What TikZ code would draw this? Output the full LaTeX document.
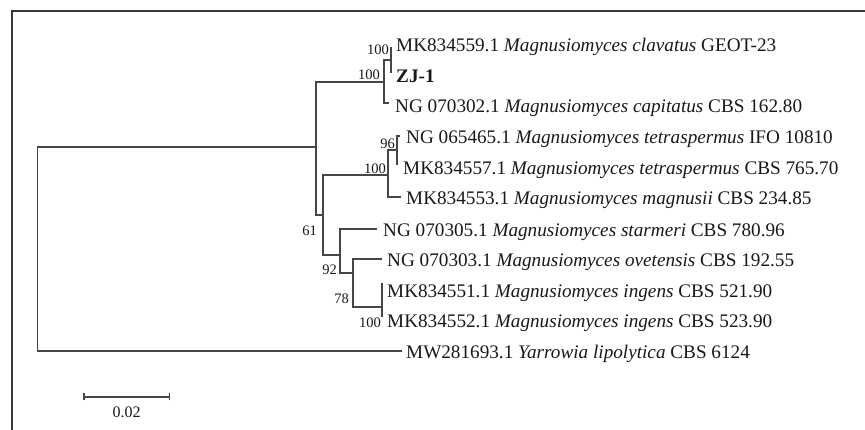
\documentclass[tikz,border=0pt]{standalone}
\usepackage{fontspec}
\setmainfont{Liberation Serif}
\definecolor{treegray}{RGB}{70,70,70}
\definecolor{framegray}{RGB}{55,55,55}
\definecolor{inkc}{RGB}{25,25,25}
\begin{document}
\begin{tikzpicture}[x=1pt,y=-1pt,
  branch/.style={draw=treegray,line width=1.9pt},
  framel/.style={draw=framegray,line width=1.7pt},
  taxon/.style={anchor=base west,inner sep=0pt,font=\fontsize{19.2}{22}\selectfont,text=inkc},
  boot/.style={anchor=east,inner sep=0pt,font=\fontsize{14.5}{16}\selectfont,text=inkc}]
\useasboundingbox (0,0) rectangle (865,430);
\fill[white] (0,0) rectangle (865,430);
\draw[framel] (865,11) -- (12,11) -- (12,430);
% internal nodes
\coordinate (R) at (37.5,249);
\coordinate (A) at (316,147);
\coordinate (B) at (384,82);
\coordinate (C) at (391,60);
\coordinate (D) at (322.7,215);
\coordinate (E) at (388,175);
\coordinate (F) at (397,150);
\coordinate (G) at (340,255);
\coordinate (H) at (353,273);
\coordinate (I) at (382,307);
% leaf ends
\coordinate (e1) at (391,47);
\coordinate (e2) at (391,73);
\coordinate (e3) at (389,103);
\coordinate (e4) at (400,136);
\coordinate (e5) at (397,165);
\coordinate (e6) at (401,197);
\coordinate (e7) at (377,229);
\coordinate (e8) at (382,259);
\coordinate (e9) at (382,283);
\coordinate (e10) at (382,317);
\coordinate (e11) at (402,351);
% branches
\draw[branch] (R) |- (A);
\draw[branch] (R) |- (e11);
\draw[branch] (A) |- (B);
\draw[branch] (A) |- (D);
\draw[branch] (B) |- (C);
\draw[branch] (B) |- (e3);
\draw[branch] (C) |- (e1);
\draw[branch] (C) |- (e2);
\draw[branch] (D) |- (E);
\draw[branch] (D) |- (G);
\draw[branch] (E) |- (F);
\draw[branch] (E) |- (e6);
\draw[branch] (F) |- (e4);
\draw[branch] (F) |- (e5);
\draw[branch] (G) |- (e7);
\draw[branch] (G) |- (H);
\draw[branch] (H) |- (e8);
\draw[branch] (H) |- (I);
\draw[branch] (I) |- (e9);
\draw[branch] (I) |- (e10);
% taxa
\node[taxon] (t1) at (396,51.3) {MK834559.1 \textit{Magnusiomyces clavatus} GEOT-23};
\node[taxon] (t2) at (396,82.3) {\textbf{ZJ-1}};
\node[taxon] (t3) at (395,112.3) {NG 070302.1 \textit{Magnusiomyces capitatus} CBS 162.80};
\node[taxon] (t4) at (406,143.3) {NG 065465.1 \textit{Magnusiomyces tetraspermus} IFO 10810};
\node[taxon] (t5) at (403,174.3) {MK834557.1 \textit{Magnusiomyces tetraspermus} CBS 765.70};
\node[taxon] (t6) at (406,204.3) {MK834553.1 \textit{Magnusiomyces magnusii} CBS 234.85};
\node[taxon] (t7) at (383,236.3) {NG 070305.1 \textit{Magnusiomyces starmeri} CBS 780.96};
\node[taxon] (t8) at (387,266.3) {NG 070303.1 \textit{Magnusiomyces ovetensis} CBS 192.55};
\node[taxon] (t9) at (387,297.3) {MK834551.1 \textit{Magnusiomyces ingens} CBS 521.90};
\node[taxon] (t10) at (387,327.3) {MK834552.1 \textit{Magnusiomyces ingens} CBS 523.90};
\node[taxon] (t11) at (406,358.3) {MW281693.1 \textit{Yarrowia lipolytica} CBS 6124};
% bootstrap values
\node[boot] (bC) at (389,50) {100};
\node[boot] (bB) at (380,74.5) {100};
\node[boot] (bF) at (395,144) {96};
\node[boot] (bE) at (386,169) {100};
\node[boot] (bD) at (317,231) {61};
\node[boot] (bG) at (337,270) {92};
\node[boot] (bH) at (349,299) {78};
\node[boot] (bI) at (381,323) {100};
% scale bar
\coordinate (s1) at (84,396.7);
\coordinate (s2) at (169.3,396.7);
\draw[branch] (s1) -- (s2);
\draw[branch,line width=1.5pt] ([yshift=-3.5pt]s1) -- ([yshift=3.5pt]s1);
\draw[branch,line width=1.5pt] ([yshift=-3.5pt]s2) -- ([yshift=3.5pt]s2);
\node[inner sep=0pt,font=\fontsize{16}{18}\selectfont,text=inkc] (sl) at (126.5,412.7) {0.02};
\end{tikzpicture}
\end{document}
